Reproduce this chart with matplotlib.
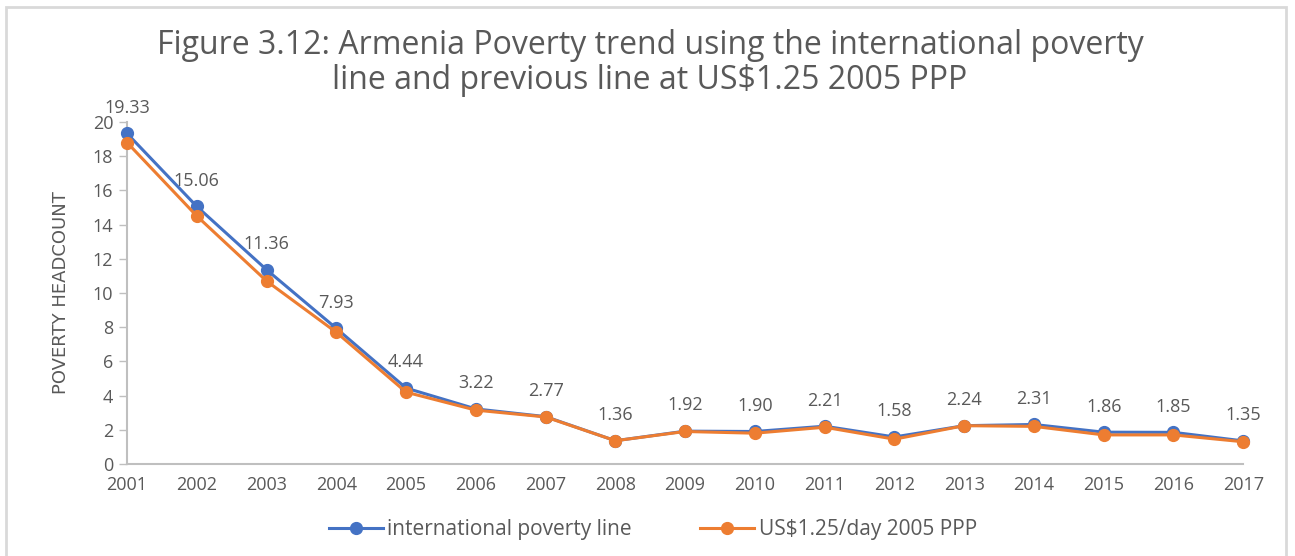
import matplotlib
matplotlib.use("Agg")
import matplotlib.pyplot as plt
from matplotlib.patches import Rectangle

years = list(range(2001, 2018))
intl_line = [19.33, 15.06, 11.36, 7.93, 4.44, 3.22, 2.77, 1.36, 1.92, 1.90,
             2.21, 1.58, 2.24, 2.31, 1.86, 1.85, 1.35]
old_line = [18.8, 14.5, 10.7, 7.7, 4.2, 3.15, 2.75, 1.36, 1.9, 1.8,
            2.15, 1.45, 2.24, 2.2, 1.7, 1.7, 1.3]

BLUE = "#4472C4"
ORANGE = "#ED7D31"
GRAY = "#595959"
AXIS = "#BFBFBF"

plt.rcParams['font.family'] = ['Open Sans', 'DejaVu Sans']

fig = plt.figure(figsize=(12.95, 5.56), dpi=100)
ax = fig.add_axes([0.0981, 0.1655, 0.8619, 0.6151])

# outer frame of the chart
fig.patches.append(Rectangle((6 / 1295, -0.1), 1280 / 1295, 1.1 - 7 / 556,
                             transform=fig.transFigure, fill=False,
                             edgecolor="#D9D9D9", linewidth=2))

ax.plot(years, intl_line, color=BLUE, lw=2.2, marker="o", ms=8.5,
        label="international poverty line", zorder=3)
ax.plot(years, old_line, color=ORANGE, lw=2.2, marker="o", ms=8.5,
        label="US$1.25/day 2005 PPP", zorder=4)

for x, y in zip(years, intl_line):
    ax.annotate(f"{y:.2f}", (x, y), xytext=(0, 12), textcoords="offset points",
                ha="center", va="bottom", fontsize=13, color=GRAY)

ax.set_xlim(2001, 2017)
ax.set_ylim(0, 20)
ax.set_yticks(range(0, 21, 2))
ax.set_xticks(years)
ax.tick_params(axis="both", labelsize=13, labelcolor=GRAY)
ax.tick_params(axis="y", color=AXIS, length=6, width=1, pad=4)
ax.tick_params(axis="x", length=0, pad=9)

for s in ["top", "right"]:
    ax.spines[s].set_visible(False)
ax.spines["left"].set_color(AXIS)
ax.spines["bottom"].set_color(AXIS)
ax.spines["left"].set_linewidth(1.5)
ax.spines["bottom"].set_linewidth(1.5)
for ln in ax.lines:
    ln.set_clip_on(False)

ax.set_ylabel("POVERTY HEADCOUNT", fontsize=13, color=GRAY,
              family=["Liberation Sans Narrow", "DejaVu Sans"], labelpad=16)

fig.text(0.502, 0.918, "Figure 3.12: Armenia Poverty trend using the international poverty",
         ha="center", va="center", fontsize=23, color=GRAY)
fig.text(0.502, 0.855, "line and previous line at US$1.25 2005 PPP",
         ha="center", va="center", fontsize=23, color=GRAY)

fig.legend(loc="center", bbox_to_anchor=(0.504, 0.048), ncol=2, frameon=False,
           fontsize=15, labelcolor=GRAY, handlelength=2.6, columnspacing=3.3,
           handletextpad=0.2)

fig.savefig("out.png", dpi=100)
